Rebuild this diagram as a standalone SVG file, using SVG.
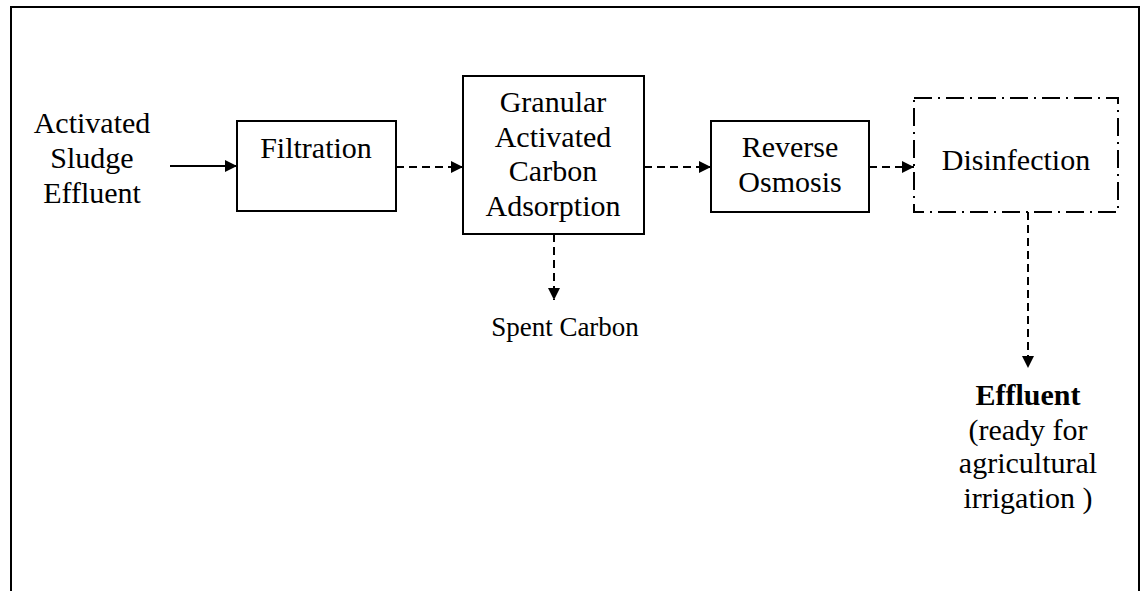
<svg xmlns="http://www.w3.org/2000/svg" width="1142" height="591" viewBox="0 0 1142 591">
<style>
.t{font-family:"Liberation Serif","Times New Roman",serif;font-size:30px;fill:#000;text-anchor:middle}
.s{font-size:27px}
.b{font-weight:bold}
.box{fill:#fff;stroke:#000;stroke-width:2}
.dd{fill:#fff;stroke:#000;stroke-width:2;stroke-dasharray:18 6 2 6}
.c{fill:none;stroke:#000;stroke-width:2}
.d{stroke-dasharray:8 5}
</style>
<defs>
<marker id="ah" viewBox="0 0 12 12" refX="12" refY="6" markerWidth="12" markerHeight="12" markerUnits="userSpaceOnUse" orient="auto">
<path d="M0,0 L12,6 L0,12 Z" fill="#000"/>
</marker>
</defs>
<rect width="1142" height="591" fill="#fff"/>
<path d="M11,591 V7 H1139 V591" fill="none" stroke="#000" stroke-width="2"/>
<g id="input">
<text class="t" x="92" y="133">Activated</text>
<text class="t" x="92" y="168">Sludge</text>
<text class="t" x="92" y="203">Effluent</text>
</g>
<g id="filtration">
<rect class="box" x="237" y="121" width="159" height="90"/>
<text class="t" x="316" y="158">Filtration</text>
</g>
<g id="gac">
<rect class="box" x="463" y="76" width="181" height="158"/>
<text class="t" x="553" y="112">Granular</text>
<text class="t" x="553" y="147">Activated</text>
<text class="t" x="553" y="181">Carbon</text>
<text class="t" x="553" y="216">Adsorption</text>
</g>
<g id="ro">
<rect class="box" x="711" y="121" width="158" height="91"/>
<text class="t" x="790" y="157">Reverse</text>
<text class="t" x="790" y="192">Osmosis</text>
</g>
<g id="disinfection">
<rect class="dd" x="914" y="98" width="204" height="114"/>
<text class="t" x="1016" y="170">Disinfection</text>
</g>
<g id="spent">
<text class="t s" x="565" y="336">Spent Carbon</text>
</g>
<g id="effluent">
<text class="t b" x="1028" y="405">Effluent</text>
<text class="t" x="1028" y="440">(ready for</text>
<text class="t" x="1028" y="473">agricultural</text>
<text class="t" x="1028" y="508">irrigation )</text>
</g>
<g id="connectors">
<line class="c" x1="170" y1="166" x2="237" y2="166" marker-end="url(#ah)"/>
<line class="c d" x1="396" y1="167" x2="463" y2="167" marker-end="url(#ah)"/>
<line class="c d" x1="644" y1="167" x2="711" y2="167" marker-end="url(#ah)"/>
<line class="c d" x1="869" y1="167" x2="914" y2="167" marker-end="url(#ah)"/>
<line class="c d" x1="554" y1="234" x2="554" y2="300" marker-end="url(#ah)"/>
<line class="c d" x1="1028" y1="212" x2="1028" y2="368" marker-end="url(#ah)"/>
</g>
</svg>
